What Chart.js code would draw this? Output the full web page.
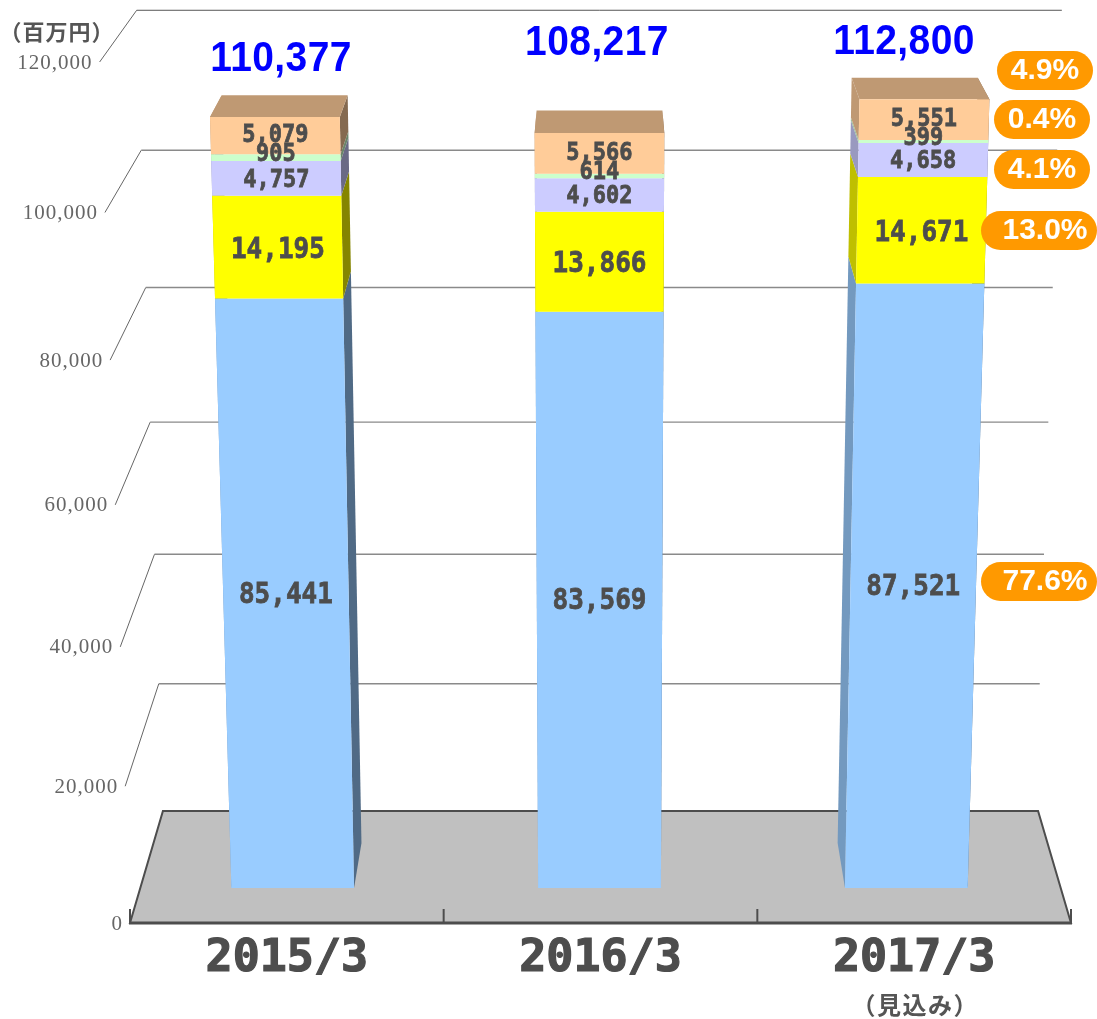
<!DOCTYPE html>
<html>
<head>
<meta charset="utf-8">
<title>Chart</title>
<script src="https://cdn.jsdelivr.net/npm/chart.js@4/dist/chart.umd.min.js"></script>
<style>
  html, body { margin:0; padding:0; background:#fff; }
  canvas { display:block; }
</style>
</head>
<body>
<canvas id="chart" width="1097" height="1019"></canvas>
<script>
/* ---------- Data ---------- */
const categories = ['2015/3', '2016/3', '2017/3'];
const seriesBlue = [85441, 83569, 87521];
const seriesYellow = [14195, 13866, 14671];
const seriesLavender = [4757, 4602, 4658];
const seriesGreen = [905, 614, 399];
const seriesPeach = [5079, 5566, 5551];
const totals = ['110,377', '108,217', '112,800'];
const shares2017 = ['4.9%', '0.4%', '4.1%', '13.0%', '77.6%'];
const yMax = 120000;
const yStep = 20000;

/* ---------- Look ---------- */
const INK = '#4d4d4d';
const seriesColors = ['#99ccff', '#ffff00', '#ccccff', '#ccffcc', '#ffcc99'];
const labelSizes = [26, 26, 22, 22, 22];
const labelNudge = [2, 3, 2, -3, 0];
const totalSpots = [[281, 57], [597, 41], [904, 40]];
const pillBoxes = [[997, 51, 96], [994, 100, 96], [994, 150, 96], [981, 211, 116], [981, 562, 116]];

/* ---------- Fake 3D: everything is projected from the flat chart area ---------- */
const BEND = 0.0558;       // value axis gets stretched towards the top
const FLOOR_DEPTH = 112;   // floor height in px
const SHRINK = 0.07;       // far wall is this much smaller than the near one
const SPREAD = 0.000075;   // walls lean outwards going up
const BAR_FRONT = 0.3125;
const BAR_BACK = 0.714;
const BAR_BACK_SCALE = 0.97;
const BAR_SHIFT = -1;

class PerspectiveScale extends Chart.LinearScale {
  getPixelForValue(value){
    const d = (value - this.min) / (this.max - this.min);
    return this.getPixelForDecimal(d * (1 - BEND) / (1 - BEND * d));
  }
}
PerspectiveScale.id = 'perspective';
PerspectiveScale.defaults = Chart.LinearScale.defaults;
Chart.register(PerspectiveScale);

function project(chart, px, py, z){
  const { left, right, bottom } = chart.chartArea;
  const cx = (left + right) / 2;
  const h = (bottom - py) * (1 - SHRINK * z);
  const s = (1 - SHRINK * z) * (1 + SPREAD * h);
  return { x: cx + (px - cx) * s, y: bottom - FLOOR_DEPTH * z - h };
}

function backOf(chart, p){
  const { left, right, bottom } = chart.chartArea;
  const cx = (left + right) / 2;
  const frontFloor = bottom - FLOOR_DEPTH * BAR_FRONT;
  const backFloor = bottom - FLOOR_DEPTH * BAR_BACK;
  return {
    x: cx + (p.x - cx) * BAR_BACK_SCALE,
    y: backFloor - (frontFloor - p.y) * BAR_BACK_SCALE
  };
}

function poly(ctx, pts, fill){
  ctx.beginPath();
  pts.forEach((p, i) => i ? ctx.lineTo(p.x, p.y) : ctx.moveTo(p.x, p.y));
  ctx.closePath();
  ctx.fillStyle = fill;
  ctx.fill();
}

function shade(hex, f){
  const n = parseInt(hex.slice(1), 16);
  const c = [n >> 16, (n >> 8) & 255, n & 255].map(v => Math.round(v * f));
  return `rgb(${c[0]},${c[1]},${c[2]})`;
}

// text stretched a bit upwards, the original font is taller than anything installed
function tallText(ctx, text, x, y, stretch, stroke){
  ctx.save();
  ctx.translate(x, y);
  ctx.scale(1, stretch);
  if(stroke){
    ctx.lineWidth = stroke;
    ctx.strokeStyle = ctx.fillStyle;
    ctx.strokeText(text, 0, 0);
  }
  ctx.fillText(text, 0, 0);
  ctx.restore();
}

function barCorners(chart, bar){
  const l = bar.x - bar.width / 2 + BAR_SHIFT;
  const r = bar.x + bar.width / 2 + BAR_SHIFT;
  return {
    bl: project(chart, l, bar.base, BAR_FRONT),
    br: project(chart, r, bar.base, BAR_FRONT),
    tl: project(chart, l, bar.y, BAR_FRONT),
    tr: project(chart, r, bar.y, BAR_FRONT)
  };
}

/* ---------- Plugin: floor, walls, bars as prisms, texts ---------- */
const prismPlugin = {
  id: 'prism',

  beforeDatasetsDraw(chart){
    const { ctx, chartArea: { left, right, bottom }, scales: { y } } = chart;
    ctx.save();
    // grid lines
    y.ticks.forEach(t => {
      if(t.value === 0) return;
      const py = y.getPixelForValue(t.value);
      const a = project(chart, left, py, 0);
      const b = project(chart, left, py, 1);
      const c = project(chart, right, py, 1);
      ctx.lineWidth = 1;
      ctx.strokeStyle = '#666';
      ctx.beginPath();
      ctx.moveTo(a.x, a.y);
      ctx.lineTo(b.x, b.y);
      ctx.stroke();
      ctx.strokeStyle = t.value === yMax ? '#555' : '#8a8a8a';
      ctx.lineWidth = t.value === yMax ? 1 : 1.4;
      ctx.beginPath();
      ctx.moveTo(b.x, b.y);
      ctx.lineTo(c.x - 2.5, c.y);
      ctx.stroke();
    });
    // floor
    const corners = [
      project(chart, left, bottom, 1),
      project(chart, right, bottom, 1),
      project(chart, right, bottom, 0),
      project(chart, left, bottom, 0)
    ];
    poly(ctx, corners, '#c0c0c0');
    ctx.strokeStyle = INK;
    ctx.lineWidth = 2;
    ctx.beginPath();
    corners.forEach((p, i) => i ? ctx.lineTo(p.x, p.y) : ctx.moveTo(p.x, p.y));
    ctx.closePath();
    ctx.stroke();
    ctx.lineWidth = 3;
    ctx.beginPath();
    ctx.moveTo(left - 1, bottom);
    ctx.lineTo(right + 1, bottom);
    ctx.stroke();
    // marks on the front edge
    ctx.lineWidth = 2;
    const band = (right - left) / categories.length;
    for(let i = 0; i <= categories.length; i++){
      ctx.beginPath();
      ctx.moveTo(left + i * band, bottom);
      ctx.lineTo(left + i * band, bottom - 14);
      ctx.stroke();
    }

    // bars: all hidden faces first, so no front gets painted over
    const last = chart.data.datasets.length - 1;
    chart.data.datasets.forEach((ds, di) => {
      const color = seriesColors[di];
      chart.getDatasetMeta(di).data.forEach(bar => {
        const { bl, br, tl, tr } = barCorners(chart, bar);
        const [bbl, bbr, btl, btr] = [bl, br, tl, tr].map(p => backOf(chart, p));
        poly(ctx, [tl, bl, bbl, btl], shade(color, 0.75));
        poly(ctx, [tr, br, bbr, btr], shade(color, 0.52));
        if(di === last) poly(ctx, [tl, tr, btr, btl], shade(color, 0.75));
      });
    });
    chart.data.datasets.forEach((ds, di) => {
      chart.getDatasetMeta(di).data.forEach(bar => {
        const { bl, br, tl, tr } = barCorners(chart, bar);
        poly(ctx, [tl, tr, br, bl], seriesColors[di]);
      });
    });
    ctx.restore();
  },

  // faces are already painted above
  beforeDatasetDraw(){
    return false;
  },

  afterDatasetsDraw(chart){
    const { ctx, chartArea: { left }, scales: { x, y } } = chart;
    ctx.save();
    ctx.textAlign = 'center';
    ctx.textBaseline = 'middle';

    // values inside the bars
    ctx.fillStyle = INK;
    chart.data.datasets.forEach((ds, di) => {
      ctx.font = `bold ${labelSizes[di]}px "DejaVu Sans Mono"`;
      chart.getDatasetMeta(di).data.forEach((bar, i) => {
        const p = project(chart, bar.x + BAR_SHIFT, (bar.y + bar.base) / 2, BAR_FRONT);
        tallText(ctx, ds.data[i].toLocaleString('en-US'), p.x, p.y + labelNudge[di], 1.12, 0.7);
      });
    });

    // totals
    ctx.fillStyle = '#0000ff';
    ctx.font = 'bold 39px "Liberation Sans"';
    ctx.letterSpacing = '0.4px';
    totals.forEach((t, i) => tallText(ctx, t, totalSpots[i][0], totalSpots[i][1] + 2, 1.08));
    ctx.letterSpacing = '0px';

    // share pills
    shares2017.forEach((s, i) => {
      const [px, py, pw] = pillBoxes[i];
      ctx.fillStyle = '#ff9900';
      ctx.beginPath();
      ctx.roundRect(px, py, pw, 39, 19.5);
      ctx.fill();
      ctx.fillStyle = '#fff';
      ctx.font = 'bold 30px "Liberation Sans"';
      ctx.fillText(s, px + pw / 2 + (pw > 100 ? 6 : 0), py + 20);
    });

    // value axis labels follow the slanted near wall
    ctx.textAlign = 'right';
    ctx.fillStyle = '#666';
    ctx.font = '21px "Liberation Serif"';
    ctx.letterSpacing = '1px';
    y.ticks.forEach(t => {
      const p = project(chart, left, y.getPixelForValue(t.value), 0);
      ctx.fillText(t.value.toLocaleString('en-US'), p.x - 7, p.y + 1);
    });
    ctx.letterSpacing = '0px';

    // unit and forecast notes
    ctx.textAlign = 'center';
    ctx.fillStyle = '#555';
    ctx.font = 'bold 22px "Noto Sans CJK JP"';
    ctx.letterSpacing = '1px';
    ctx.fillText('（百万円）', 57, 32);
    ctx.font = 'bold 24px "Noto Sans CJK JP"';
    ctx.letterSpacing = '1.5px';
    ctx.fillText('（見込み）', x.getPixelForTick(2) + 1, 1005);
    ctx.restore();
  }
};

/* ---------- Chart ---------- */
const seriesData = [seriesBlue, seriesYellow, seriesLavender, seriesGreen, seriesPeach];

new Chart(document.getElementById('chart'), {
  type: 'bar',
  data: {
    labels: categories,
    datasets: seriesData.map((data, i) => ({
      data,
      backgroundColor: seriesColors[i],
      barPercentage: 0.4,
      categoryPercentage: 1
    }))
  },
  plugins: [prismPlugin],
  options: {
    responsive: false,
    animation: false,
    layout: { padding: { left: 130, right: 26, top: 62, bottom: 0 } },
    plugins: { legend: { display: false }, tooltip: { enabled: false } },
    scales: {
      x: {
        stacked: true,
        grid: { display: false, drawTicks: false },
        border: { display: false },
        afterFit: s => { s.height = 96; },
        ticks: {
          color: INK,
          padding: 9,
          maxRotation: 0,
          autoSkip: false,
          textStrokeColor: INK,
          textStrokeWidth: 1.2,
          font: { family: '"DejaVu Sans Mono"', weight: 'bold', size: 45 }
        }
      },
      y: {
        type: 'perspective',
        stacked: true,
        min: 0,
        max: yMax,
        grid: { display: false },
        border: { display: false },
        afterFit: s => { s.width = 0; },
        ticks: { display: false, stepSize: yStep }
      }
    }
  }
});
</script>
</body>
</html>
